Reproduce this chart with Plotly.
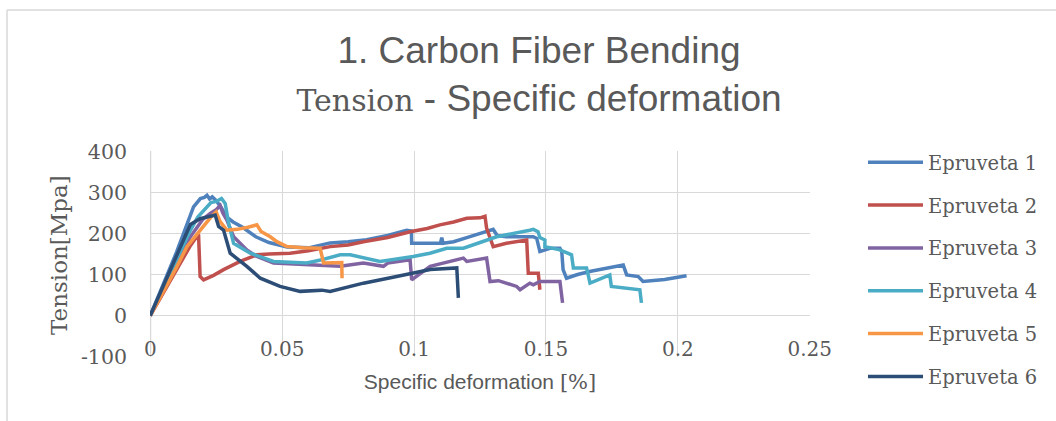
import plotly.graph_objects as go

# ---- data ----
names = ["Epruveta 1", "Epruveta 2", "Epruveta 3", "Epruveta 4", "Epruveta 5", "Epruveta 6"]
colors = ["#4F81BD", "#C0504D", "#8064A2", "#4BACC6", "#F79646", "#2C4D75"]

x1 = [0, 0.005, 0.01, 0.0164, 0.019, 0.0205, 0.0215, 0.0225, 0.0235, 0.025, 0.027, 0.029, 0.0314, 0.035,
      0.04, 0.045, 0.0519, 0.06, 0.0682, 0.075, 0.082, 0.09, 0.0972, 0.099, 0.0991, 0.11, 0.1105, 0.111,
      0.115, 0.12, 0.125, 0.128, 0.13, 0.1315, 0.135, 0.14, 0.1452, 0.1465, 0.1477, 0.1515, 0.1553, 0.156,
      0.1565, 0.1578, 0.162, 0.167, 0.175, 0.1793, 0.1806, 0.185, 0.1868, 0.195, 0.2033]
y1 = [0, 78, 155, 265, 285, 288, 293, 284, 289, 280, 262, 240, 228, 215,
      192, 178, 167, 165, 177, 180, 185, 195, 208, 206, 176, 176, 190, 176,
      180, 190, 200, 208, 210, 195, 192, 192, 192, 188, 156, 164, 164, 156,
      112, 91, 100, 108, 118, 123, 99, 95, 83, 88, 97]

x2 = [0, 0.005, 0.01, 0.015, 0.0179, 0.0183, 0.0189, 0.0202, 0.024, 0.0278, 0.0341, 0.0404, 0.045, 0.053,
      0.06, 0.0682, 0.075, 0.0808, 0.09, 0.0985, 0.105, 0.1098, 0.115, 0.12, 0.125, 0.1269, 0.1275, 0.13,
      0.135, 0.1414, 0.1427, 0.1433, 0.1471, 0.1477]
y2 = [0, 57, 115, 168, 195, 198, 95, 87, 98, 112, 132, 148, 150, 152,
      158, 168, 172, 180, 190, 204, 212, 221, 228, 237, 238, 242, 213, 168,
      176, 184, 184, 103, 103, 63]

x3 = [0, 0.005, 0.01, 0.015, 0.02, 0.023, 0.025, 0.0265, 0.0275, 0.029, 0.0316, 0.0366, 0.04, 0.0467,
      0.0593, 0.072, 0.0808, 0.0884, 0.09, 0.0985, 0.0991, 0.1061, 0.1187, 0.12, 0.1275, 0.1288, 0.132,
      0.1389, 0.1402, 0.1439, 0.1452, 0.1477, 0.1553, 0.1563]
y3 = [0, 65, 130, 190, 235, 250, 258, 268, 250, 233, 192, 160, 145, 128,
      124, 120, 128, 120, 128, 136, 87, 120, 140, 132, 140, 83, 85,
      71, 63, 79, 75, 83, 83, 31]

x4 = [0, 0.005, 0.01, 0.015, 0.018, 0.021, 0.023, 0.025, 0.027, 0.0284, 0.0297, 0.0316, 0.0379, 0.0467,
      0.0593, 0.065, 0.072, 0.0758, 0.0871, 0.0997, 0.106, 0.1124, 0.1187, 0.125, 0.1313, 0.1439, 0.1452,
      0.147, 0.1477, 0.1496, 0.1496, 0.1553, 0.1597, 0.1604, 0.1654, 0.1667, 0.1742, 0.1748, 0.1856, 0.1862]
y4 = [0, 70, 140, 205, 240, 262, 275, 278, 285, 273, 225, 176, 152, 132,
      128, 136, 148, 148, 132, 144, 152, 164, 164, 178, 192, 208, 210,
      204, 190, 184, 168, 160, 148, 116, 116, 79, 99, 71, 63, 31]

x5 = [0, 0.005, 0.01, 0.0139, 0.02, 0.023, 0.025, 0.0265, 0.029, 0.033, 0.037, 0.0404, 0.042, 0.0455,
      0.048, 0.0518, 0.058, 0.0644, 0.0657, 0.0726, 0.0727]
y5 = [0, 58, 118, 168, 215, 240, 252, 229, 208, 210, 215, 221, 205, 192,
      180, 168, 165, 164, 128, 129, 91]

x6 = [0, 0.005, 0.01, 0.0152, 0.0189, 0.022, 0.0246, 0.0259, 0.0278, 0.0303, 0.0366, 0.0417, 0.0492,
      0.0568, 0.065, 0.0682, 0.0808, 0.0934, 0.1061, 0.1162, 0.1168]
y6 = [0, 72, 145, 222, 236, 240, 245, 217, 208, 152, 120, 91, 71,
      59, 62, 59, 79, 95, 112, 116, 43]

xs = [x1, x2, x3, x4, x5, x6]
ys = [y1, y2, y3, y4, y5, y6]

x_ticks = [0, 0.05, 0.1, 0.15, 0.2, 0.25]
y_ticks = [-100, 0, 100, 200, 300, 400]
y_tick_labels = ["-100", "0", "100", "200", "300", "400"]

SERIF = "DejaVu Serif, Liberation Serif, serif"
SANS = "Liberation Sans, Arial, sans-serif"
GRAY = "#595959"
GRID = "#D9D9D9"

fig = go.Figure()
for i in range(6):
    fig.add_trace(go.Scatter(
        x=xs[i], y=ys[i], mode="lines", name=names[i],
        line=dict(color=colors[i], width=3.5),
        legendgroup=names[i],
    ))

W, H = 1056, 421
L, R, T, B = 150, 246, 151, 64
PW, PH = W - L - R, H - T - B

fig.update_layout(
    width=W, height=H,
    margin=dict(l=L, r=R, t=T, b=B),
    paper_bgcolor="white", plot_bgcolor="white",
    title=dict(
        text="1. Carbon Fiber Bending<br><span style=\"font-family:DejaVu Serif;font-size:30px\">Tension</span> - Specific deformation",
        font=dict(family=SANS, size=37, color=GRAY),
        x=539 / W, xref="container", xanchor="center",
        y=1 - 63 / H, yref="container", yanchor="middle",
    ),
    xaxis=dict(
        range=[-0.0001, 0.2501], tickvals=x_ticks, ticktext=[str(v) for v in x_ticks],
        showgrid=True, gridcolor=GRID, gridwidth=1,
        zeroline=False, showline=False, ticks="", automargin=False,
        ticklabelposition="outside", ticklabelstandoff=-22,
        tickfont=dict(family=SERIF, size=20, color=GRAY),
        title=dict(text="Specific deformation <span style=\"font-family:DejaVu Serif\">[%]</span>",
                   font=dict(family=SANS, size=21, color=GRAY), standoff=14),
    ),
    yaxis=dict(
        range=[-100.8, 400.8], tickvals=y_ticks, ticktext=y_tick_labels,
        showgrid=True, gridcolor=GRID, gridwidth=1,
        zeroline=False, showline=False, ticks="", automargin=False,
        ticklabelstandoff=22,
        tickfont=dict(family=SERIF, size=20.5, color=GRAY),
    ),
    annotations=[
        dict(text="Tension[Mpa]", textangle=-90, showarrow=False,
             xref="paper", yref="paper", x=(59 - L) / PW, y=(H - B - 255) / PH,
             xanchor="center", yanchor="middle",
             font=dict(family=SERIF, size=23, color=GRAY)),
    ],
    legend=dict(
        x=(863 - L) / PW, xanchor="left",
        y=(H - B - 143) / PH, yanchor="top",
        font=dict(family=SERIF, size=19.5, color=GRAY),
        itemwidth=55, traceorder="grouped", tracegroupgap=14.5,
        maxheight=330,
        bgcolor="rgba(0,0,0,0)",
    ),
    shapes=[
        dict(type="line", xref="paper", yref="paper",
             x0=(7 - L) / PW, x1=(7 - L) / PW,
             y0=(H - B - 10) / PH, y1=(H - B - 430) / PH,
             line=dict(color=GRID, width=1.5)),
        dict(type="line", xref="paper", yref="paper",
             x0=(7 - L) / PW, x1=(1070 - L) / PW,
             y0=(H - B - 10) / PH, y1=(H - B - 10) / PH,
             line=dict(color=GRID, width=1.5)),
        dict(type="line", xref="x", yref="paper", x0=0, x1=0, y0=0, y1=1,
             line=dict(color=GRID, width=2), layer="below"),
    ],
)

fig.write_html("out.html", config={"displayModeBar": False},
               post_script="document.body.style.margin='0';")
